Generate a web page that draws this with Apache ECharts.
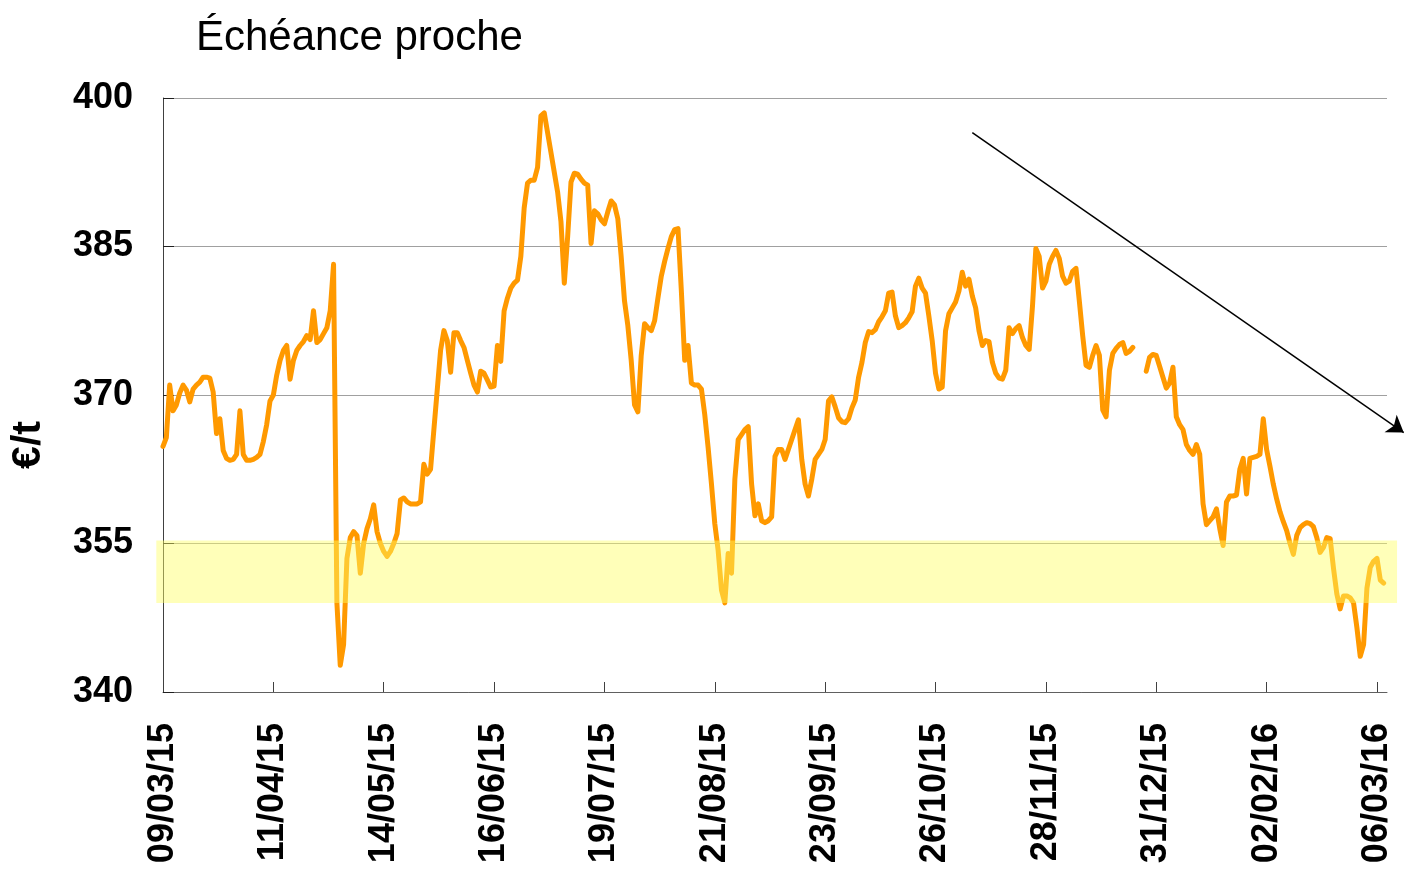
<!DOCTYPE html>
<html>
<head>
<meta charset="utf-8">
<script src="https://cdn.jsdelivr.net/npm/echarts@6/dist/echarts.min.js"></script>
<style>
  html, body { margin: 0; padding: 0; background: #ffffff; }
  #chart { width: 1405px; height: 871px; }
</style>
</head>
<body>
<div id="chart"></div>
<script>
// Nearby-contract price, €/t, one reading per calendar day
const dates = [
  '2015-03-09','2015-03-10','2015-03-11','2015-03-12','2015-03-13','2015-03-14','2015-03-15','2015-03-16','2015-03-17','2015-03-18',
  '2015-03-19','2015-03-20','2015-03-21','2015-03-22','2015-03-23','2015-03-24','2015-03-25','2015-03-26','2015-03-27','2015-03-28',
  '2015-03-29','2015-03-30','2015-03-31',
  '2015-04-01','2015-04-02','2015-04-03','2015-04-04','2015-04-05','2015-04-06','2015-04-07','2015-04-08','2015-04-09','2015-04-10',
  '2015-04-11','2015-04-12','2015-04-13','2015-04-14','2015-04-15','2015-04-16','2015-04-17','2015-04-18','2015-04-19','2015-04-20',
  '2015-04-21','2015-04-22','2015-04-23','2015-04-24','2015-04-25','2015-04-26','2015-04-27','2015-04-28','2015-04-29','2015-04-30',
  '2015-05-01','2015-05-02','2015-05-03','2015-05-04','2015-05-05','2015-05-06','2015-05-07','2015-05-08','2015-05-09','2015-05-10',
  '2015-05-11','2015-05-12','2015-05-13','2015-05-14','2015-05-15','2015-05-16','2015-05-17','2015-05-18','2015-05-19','2015-05-20',
  '2015-05-21','2015-05-22','2015-05-23','2015-05-24','2015-05-25','2015-05-26','2015-05-27','2015-05-28','2015-05-29','2015-05-30',
  '2015-05-31',
  '2015-06-01','2015-06-02','2015-06-03','2015-06-04','2015-06-05','2015-06-06','2015-06-07','2015-06-08','2015-06-09','2015-06-10',
  '2015-06-11','2015-06-12','2015-06-13','2015-06-14','2015-06-15','2015-06-16','2015-06-17','2015-06-18','2015-06-19','2015-06-20',
  '2015-06-21','2015-06-22','2015-06-23','2015-06-24','2015-06-25','2015-06-26','2015-06-27','2015-06-28','2015-06-29','2015-06-30',
  '2015-07-01','2015-07-02','2015-07-03','2015-07-04','2015-07-05','2015-07-06','2015-07-07','2015-07-08','2015-07-09','2015-07-10',
  '2015-07-11','2015-07-12','2015-07-13','2015-07-14','2015-07-15','2015-07-16','2015-07-17','2015-07-18','2015-07-19','2015-07-20',
  '2015-07-21','2015-07-22','2015-07-23','2015-07-24','2015-07-25','2015-07-26','2015-07-27','2015-07-28','2015-07-29','2015-07-30',
  '2015-07-31',
  '2015-08-01','2015-08-02','2015-08-03','2015-08-04','2015-08-05','2015-08-06','2015-08-07','2015-08-08','2015-08-09','2015-08-10',
  '2015-08-11','2015-08-12','2015-08-13','2015-08-14','2015-08-15','2015-08-16','2015-08-17','2015-08-18','2015-08-19','2015-08-20',
  '2015-08-21','2015-08-22','2015-08-23','2015-08-24','2015-08-25','2015-08-26','2015-08-27','2015-08-28','2015-08-29','2015-08-30',
  '2015-08-31',
  '2015-09-01','2015-09-02','2015-09-03','2015-09-04','2015-09-05','2015-09-06','2015-09-07','2015-09-08','2015-09-09','2015-09-10',
  '2015-09-11','2015-09-12','2015-09-13','2015-09-14','2015-09-15','2015-09-16','2015-09-17','2015-09-18','2015-09-19','2015-09-20',
  '2015-09-21','2015-09-22','2015-09-23','2015-09-24','2015-09-25','2015-09-26','2015-09-27','2015-09-28','2015-09-29','2015-09-30',
  '2015-10-01','2015-10-02','2015-10-03','2015-10-04','2015-10-05','2015-10-06','2015-10-07','2015-10-08','2015-10-09','2015-10-10',
  '2015-10-11','2015-10-12','2015-10-13','2015-10-14','2015-10-15','2015-10-16','2015-10-17','2015-10-18','2015-10-19','2015-10-20',
  '2015-10-21','2015-10-22','2015-10-23','2015-10-24','2015-10-25','2015-10-26','2015-10-27','2015-10-28','2015-10-29','2015-10-30',
  '2015-10-31',
  '2015-11-01','2015-11-02','2015-11-03','2015-11-04','2015-11-05','2015-11-06','2015-11-07','2015-11-08','2015-11-09','2015-11-10',
  '2015-11-11','2015-11-12','2015-11-13','2015-11-14','2015-11-15','2015-11-16','2015-11-17','2015-11-18','2015-11-19','2015-11-20',
  '2015-11-21','2015-11-22','2015-11-23','2015-11-24','2015-11-25','2015-11-26','2015-11-27','2015-11-28','2015-11-29','2015-11-30',
  '2015-12-01','2015-12-02','2015-12-03','2015-12-04','2015-12-05','2015-12-06','2015-12-07','2015-12-08','2015-12-09','2015-12-10',
  '2015-12-11','2015-12-12','2015-12-13','2015-12-14','2015-12-15','2015-12-16','2015-12-17','2015-12-18','2015-12-19','2015-12-20',
  '2015-12-21','2015-12-22','2015-12-23','2015-12-24','2015-12-25','2015-12-28','2015-12-29','2015-12-30','2015-12-31',
  '2016-01-01','2016-01-02','2016-01-03','2016-01-04','2016-01-05','2016-01-06','2016-01-07','2016-01-08','2016-01-09','2016-01-10',
  '2016-01-11','2016-01-12','2016-01-13','2016-01-14','2016-01-15','2016-01-16','2016-01-17','2016-01-18','2016-01-19','2016-01-20',
  '2016-01-21','2016-01-22','2016-01-23','2016-01-24','2016-01-25','2016-01-26','2016-01-27','2016-01-28','2016-01-29','2016-01-30',
  '2016-01-31',
  '2016-02-01','2016-02-02','2016-02-03','2016-02-04','2016-02-05','2016-02-06','2016-02-07','2016-02-08','2016-02-09','2016-02-10',
  '2016-02-11','2016-02-12','2016-02-13','2016-02-14','2016-02-15','2016-02-16','2016-02-17','2016-02-18','2016-02-19','2016-02-20',
  '2016-02-21','2016-02-22','2016-02-23','2016-02-24','2016-02-25','2016-02-26','2016-02-27','2016-02-28','2016-02-29',
  '2016-03-01','2016-03-02','2016-03-03','2016-03-04','2016-03-05','2016-03-06','2016-03-07','2016-03-08'
];

const prices = [
  364.8,365.7,371.0,368.4,369.0,370.2,371.0,370.5,369.3,370.6,
  371.0,371.3,371.8,371.8,371.7,370.3,366.1,367.6,364.4,363.6,
  363.4,363.5,364.0,
  368.4,364.0,363.4,363.4,363.5,363.7,364.0,365.3,367.0,369.4,
  370.0,372.0,373.5,374.5,375.0,371.6,373.5,374.5,375.0,375.4,
  376.0,375.6,378.5,375.3,375.6,376.2,376.8,378.5,383.2,349.0,
  342.7,344.8,353.5,355.6,356.2,355.8,352.0,355.0,356.5,357.5,
  358.9,356.2,355.0,354.2,353.7,354.2,355.0,356.0,359.4,359.6,
  359.2,359.0,359.0,359.0,359.2,363.0,362.0,362.5,366.5,370.5,
  374.5,
  376.5,375.5,372.3,376.3,376.3,375.5,374.8,373.5,372.2,371.0,
  370.3,372.4,372.2,371.5,370.8,370.9,375.0,373.4,378.5,379.8,
  380.8,381.3,381.6,384.0,388.9,391.4,391.7,391.7,393.0,398.2,
  398.5,396.5,394.5,392.5,390.5,387.5,381.3,386.0,391.5,392.4,
  392.3,391.8,391.4,391.2,385.3,388.6,388.3,387.7,387.3,388.5,
  389.6,389.2,387.8,384.0,379.5,377.0,373.5,369.0,368.3,374.0,
  377.2,
  376.8,376.5,377.5,379.8,382.0,383.5,384.8,386.0,386.7,386.8,
  380.5,373.5,375.0,371.2,371.0,371.0,370.6,368.0,364.7,361.0,
  357.0,354.3,350.3,349.0,354.0,352.0,361.5,365.5,366.0,366.5,
  366.8,
  361.0,357.8,359.0,357.3,357.1,357.3,357.7,363.8,364.5,364.5,
  363.5,364.5,365.5,366.5,367.5,363.5,361.0,359.8,361.5,363.5,
  364.0,364.5,365.5,369.4,369.8,368.8,367.7,367.3,367.2,367.6,
  368.7,369.5,371.8,373.3,375.3,376.4,376.3,376.6,377.4,377.9,
  378.5,380.3,380.4,378.0,376.8,377.0,377.3,377.8,378.4,381.0,
  381.8,380.8,380.3,378.0,375.5,372.2,370.6,370.8,376.5,378.2,
  378.8,
  379.4,380.5,382.4,381.0,381.7,380.0,378.8,376.5,375.0,375.5,
  375.4,373.3,372.2,371.7,371.6,372.5,376.8,376.2,376.7,377.0,
  375.8,375.0,374.6,379.0,384.8,384.0,380.8,381.5,383.2,384.0,
  384.6,383.8,382.0,381.3,381.5,382.5,382.8,379.5,376.0,373.0,
  372.8,374.0,375.0,374.0,368.5,367.8,372.5,374.2,374.7,375.1,
  375.3,374.2,374.4,374.8,null,372.4,373.8,374.1,374.0,
  372.9,371.8,370.7,371.2,372.8,367.8,367.0,366.5,365.0,364.4,
  364.0,365.0,364.0,359.0,356.9,357.3,357.7,358.5,356.5,354.8,
  359.2,359.8,359.8,359.9,362.5,363.6,360.0,363.6,363.7,363.8,
  364.0,
  367.6,364.5,362.8,361.0,359.5,358.2,357.2,356.3,355.0,353.9,
  355.8,356.6,356.9,357.1,357.0,356.7,355.6,354.1,354.6,355.6,
  355.5,352.5,349.9,348.4,349.7,349.7,349.5,349.0,346.5,
  343.6,344.8,350.5,352.6,353.2,353.5,351.3,351.0
];

// Axis range and labelled dates
const axisStart = '2015-03-09';
const axisEnd = '2016-03-09';
const tickDates = [
  '2015-03-09','2015-04-11','2015-05-14','2015-06-16','2015-07-19','2015-08-21',
  '2015-09-23','2015-10-26','2015-11-28','2015-12-31','2016-02-02','2016-03-06'
];
const yTicks = [340, 355, 370, 385, 400];

// Highlighted price zone
const zoneLow = 349.0;
const zoneHigh = 355.3;
const zoneDates = ['2015-03-07', '2016-03-12'];

// Downward trend arrow
const trendDates = ['2015-11-06', '2016-03-14'];
const trendValues = [396.5, 366.2];

const DAY = 86400000;
const t0 = Date.parse(axisStart);
const dayOf = s => Math.round((Date.parse(s) - t0) / DAY);
const pad = n => (n < 10 ? '0' : '') + n;
function fmtDay(d) {
  const dt = new Date(t0 + d * DAY);
  return pad(dt.getUTCDate()) + '/' + pad(dt.getUTCMonth() + 1) + '/' + pad(dt.getUTCFullYear() % 100);
}

const FONT = "'Liberation Sans', Arial, Helvetica, sans-serif";
const tickDays = tickDates.map(dayOf);
const series = dates.map((d, i) => [dayOf(d), prices[i] === null ? '-' : prices[i]]);

const chart = echarts.init(document.getElementById('chart'), null, { renderer: 'canvas' });

chart.setOption({
  backgroundColor: '#ffffff',
  animation: false,
  title: {
    text: 'Échéance proche',
    left: 191,
    top: 12,
    textStyle: { fontFamily: FONT, fontSize: 42, fontWeight: 'normal', color: '#000000' }
  },
  graphic: [{
    type: 'text',
    x: 29,
    y: 445,
    rotation: Math.PI / 2,
    style: {
      text: '€/t',
      fontFamily: FONT,
      fontSize: 41,
      fontWeight: 'bold',
      fill: '#000000',
      align: 'center',
      verticalAlign: 'middle'
    }
  }],
  grid: { left: 163, right: 18, top: 98, bottom: 179, containLabel: false },
  xAxis: {
    type: 'value',
    min: 0,
    max: dayOf(axisEnd),
    interval: 33,
    axisLine: { show: true, lineStyle: { color: '#606060', width: 1 } },
    axisTick: { show: true, inside: true, length: 10, customValues: tickDays, lineStyle: { color: '#404040' } },
    axisLabel: {
      customValues: tickDays,
      formatter: fmtDay,
      rotate: 90,
      margin: 31,
      fontFamily: FONT,
      fontSize: 36,
      fontWeight: 'bold',
      color: '#000000'
    },
    splitLine: { show: false }
  },
  yAxis: {
    type: 'value',
    min: 340,
    max: 400,
    axisLine: { show: true, lineStyle: { color: '#404040', width: 1 } },
    axisTick: { show: true, inside: true, length: 11, customValues: yTicks, lineStyle: { color: '#202020' } },
    axisLabel: {
      customValues: yTicks,
      margin: 30,
      fontFamily: FONT,
      fontSize: 36,
      fontWeight: 'bold',
      color: '#000000'
    },
    splitLine: { show: true, lineStyle: { color: '#a0a0a0', width: 1 } }
  },
  series: [
    {
      name: 'Échéance proche',
      type: 'line',
      data: series,
      showSymbol: false,
      connectNulls: false,
      lineStyle: { color: '#ff9900', width: 5, cap: 'round', join: 'round' },
      z: 2
    },
    {
      type: 'custom',
      clip: false,
      silent: true,
      z: 3,
      encode: { x: [0, 1], y: [2, 3] },
      data: [[dayOf(zoneDates[0]), dayOf(zoneDates[1]), zoneLow, zoneHigh]],
      renderItem: function (params, api) {
        const a = api.coord([api.value(0), api.value(3)]);
        const b = api.coord([api.value(1), api.value(2)]);
        return {
          type: 'rect',
          shape: { x: a[0], y: a[1], width: b[0] - a[0], height: b[1] - a[1] },
          style: { fill: 'rgba(255, 255, 100, 0.45)' }
        };
      }
    },
    {
      type: 'lines',
      coordinateSystem: 'cartesian2d',
      clip: false,
      silent: true,
      z: 5,
      symbol: ['none', 'arrow'],
      symbolSize: 16,
      lineStyle: { color: '#000000', width: 1.5, opacity: 1, curveness: 0 },
      data: [{
        coords: [
          [dayOf(trendDates[0]), trendValues[0]],
          [dayOf(trendDates[1]), trendValues[1]]
        ]
      }]
    }
  ]
});
</script>
</body>
</html>
